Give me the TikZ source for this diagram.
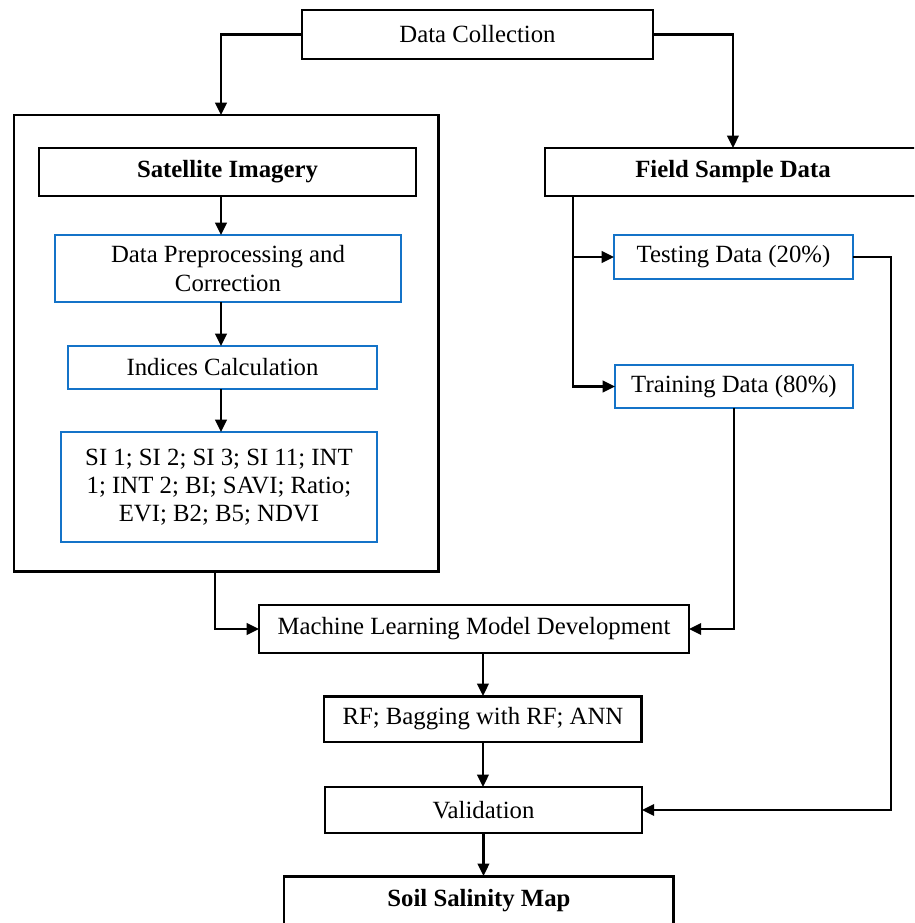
\documentclass[tikz,border=0pt]{standalone}
\usepackage{fontspec}
\setmainfont{Liberation Serif}
\usetikzlibrary{arrows.meta}
\definecolor{boxblue}{RGB}{20,115,200}
\tikzset{
  every node/.style={font=\fontsize{14.1}{16}\selectfont},
  box/.style={draw=black, line width=0.8pt, inner sep=0pt, outer sep=0pt,
    anchor=north west, align=center},
  bluebox/.style={box, draw=boxblue, line width=0.9pt},
  thickbox/.style={box, line width=1.7pt},
  arr/.style={line width=1.25pt, -{Triangle[length=7pt,width=6.5pt]}}
}
\begin{document}
\begin{tikzpicture}[x=0.02cm, y=-0.02cm]
  \useasboundingbox (0,0) rectangle (914,923);
  \clip (0,0) rectangle (914,923);

  % top-level source
  \node[box, minimum width=7.02cm, minimum height=0.98cm] (dc) at (302,10) {Data Collection};

  % satellite imagery branch in its frame
  \node[thickbox, minimum width=8.50cm, minimum height=9.14cm] (cont) at (14,115) {};
  \node[box, minimum width=7.54cm, minimum height=0.96cm] (sat) at (39,148) {\textbf{Satellite Imagery}};
  \node[bluebox, minimum width=6.92cm, minimum height=1.34cm] (pre) at (55,235) {Data Preprocessing and\\Correction};
  \node[bluebox, minimum width=6.18cm, minimum height=0.86cm] (ind) at (68,346) {Indices Calculation};
  \node[bluebox, minimum width=6.32cm, minimum height=2.20cm] (si) at (61,432)
    {SI 1; SI 2; SI 3; SI 11; INT\\1; INT 2; BI; SAVI; Ratio;\\EVI; B2; B5; NDVI};

  % field sample branch
  \node[box, minimum width=7.52cm, minimum height=0.96cm] (field) at (545,148) {\textbf{Field Sample Data}};
  \node[bluebox, minimum width=4.78cm, minimum height=0.88cm] (test) at (614,235) {Testing Data (20\%)};
  \node[bluebox, minimum width=4.76cm, minimum height=0.86cm] (train) at (615,365) {Training Data (80\%)};

  % modelling chain
  \node[box, minimum width=8.60cm, minimum height=0.96cm] (ml) at (259,605) {Machine Learning Model Development};
  \node[thickbox, minimum width=6.36cm, minimum height=0.92cm] (rf) at (324,696) {RF; Bagging with RF; ANN};
  \node[box, minimum width=6.34cm, minimum height=0.92cm] (val) at (325,787) {Validation};
  \node[thickbox, minimum width=7.80cm, minimum height=0.98cm] (soil) at (284,876) {\textbf{Soil Salinity Map}};

  % guide lines for the vertical runs
  \coordinate (spine) at (221,0);
  \coordinate (fb) at (573,0);
  \coordinate (cb) at (215,0);
  \coordinate (tr) at (891,0);

  % connectors
  \draw[arr] (dc.west) -| (cont.north -| spine);
  \draw[arr] (dc.east) -| (field.north);
  \draw[arr] (sat.south -| spine) -- (pre.north -| spine);
  \draw[arr] (pre.south -| spine) -- (ind.north -| spine);
  \draw[arr] (ind.south -| spine) -- (si.north -| spine);

  \draw[arr] (field.south -| fb) |- (train.west);
  \draw[arr] (fb |- test.west) -- (test.west);

  \draw[arr] (test.east) -- (test.east -| tr) |- (val.east);
  \draw[arr] (train.south) |- (ml.east);
  \draw[arr] (cont.south -| cb) |- (ml.west);

  \draw[arr] (ml.south -| rf.north) -- (rf.north);
  \draw[arr] (rf.south) -- (val.north -| rf.south);
  \draw[arr] (val.south) -- (soil.north -| val.south);
\end{tikzpicture}
\end{document}
